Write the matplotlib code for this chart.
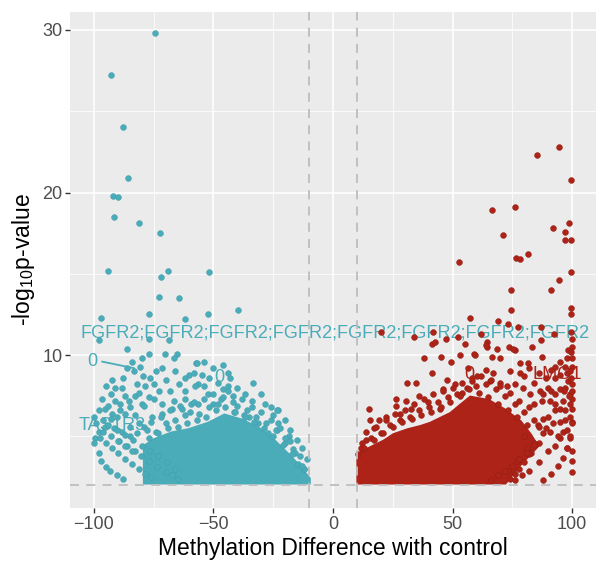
import numpy as np
import matplotlib
import matplotlib.pyplot as plt

matplotlib.use("Agg")

plt.rcParams["font.family"] = ["Liberation Sans", "DejaVu Sans"]
plt.rcParams["mathtext.default"] = "regular"

TEAL = "#4BACB9"
RED = "#AD2318"

# ── Data ──────────────────────────────────────────────────────────────────────

# hypomethylated (teal) – isolated points
teal_x = [-74.6, -92.9, -87.9, -85.8, -92.1, -90.0, -91.7, -81.3, -72.5, -94.2,
          -69.2, -72.1, -51.7, -72.9, -64.6, -97.1, -77.1, -61.7, -52.1, -39.6,
          -97.9, -86.3, -77.1, -68.8, -77.1, -70.4, -65.4, -66.7, -57.1, -84.2,
          -83.3, -80.8, -71.7, -92.5, -88.3, -91.3, -79.6, -76.7, -82.1, -78.8,
          -75.0, -72.9, -68.3, -64.6, -60.4, -56.3, -62.1, -96.7, -89.2, -85.4,
          -82.9, -80.0, -75.0, -71.7, -66.3, -62.1, -59.2, -95.4, -92.5, -90.4,
          -87.1, -100.0, -97.9, -99.6, -95.4, -91.7, -88.3, -85.0, -81.3, -75.8,
          -71.7, -67.5, -63.3, -89.6, -86.3, -82.9, -56.7, -54.6, -51.7, -47.9,
          -42.9, -43.8, -41.7, -45.8, -33.3, -57.9, -53.8, -52.1, -56.3, -50.0,
          -46.7, -28.3, -22.9, -22.9, -41.3, -37.1, -35.0, -31.3, -27.1, -23.3,
          -16.7, -14.6, -12.1, -23.3, -18.3, -20.0,
          -99.0, -98.0, -96.0, -94.0, -93.0, -91.0, -89.0, -87.0, -85.0, -83.0,
          -81.0, -79.0, -77.0, -79.0, -82.0, -85.0, -93.0, -95.0, -88.0, -86.0,
          -80.0, -74.0, -70.0, -66.0, -62.0, -58.0, -54.0, -50.0, -46.0, -44.0,
          -40.0, -37.0, -34.0, -30.0, -26.0, -25.0, -20.0, -18.0, -15.0, -13.0,
          -11.0]
teal_y = [29.8, 27.2, 24.0, 20.9, 19.8, 19.7, 18.5, 18.1, 17.5, 15.2,
          15.2, 14.8, 15.1, 13.6, 13.5, 12.3, 12.5, 12.2, 12.5, 12.8,
          10.9, 10.4, 11.0, 10.9, 10.1, 10.1, 10.1, 9.8, 9.5, 9.6,
          9.0, 9.3, 9.2, 8.5, 8.0, 8.0, 8.7, 8.6, 8.2, 8.1,
          8.2, 7.8, 7.8, 8.2, 8.8, 8.2, 7.8, 7.3, 7.0, 7.2,
          7.5, 7.0, 7.3, 7.0, 7.2, 7.3, 7.0, 6.7, 6.4, 6.2,
          6.4, 6.2, 5.3, 4.9, 5.6, 5.5, 5.3, 5.6, 5.8, 6.2,
          6.4, 6.7, 6.7, 4.7, 4.4, 4.1, 9.5, 8.8, 8.6, 8.3,
          8.6, 8.1, 7.5, 7.9, 8.3, 8.1, 8.1, 7.6, 7.0, 7.0,
          7.3, 7.0, 6.6, 5.8, 6.5, 6.3, 6.2, 5.8, 5.2, 5.4,
          4.2, 3.3, 3.0, 6.6, 5.0, 4.6,
          5.8, 6.6, 6.0, 6.9, 6.1, 7.2, 6.6, 7.5, 6.8, 6.3,
          7.7, 6.9, 7.4, 5.6, 5.2, 5.0, 7.6, 8.1, 8.6, 9.2,
          9.8, 9.0, 8.5, 9.0, 8.6, 8.9, 9.6, 9.2, 9.4, 8.9,
          8.0, 7.6, 7.2, 7.6, 6.8, 6.3, 6.0, 5.4, 4.8, 4.3,
          3.6]

# ragged top of the teal cloud
teal_edge_x = [-78, -76, -74, -72, -70, -68, -66, -64, -62, -60, -58, -56,
               -54, -52, -50, -48, -46, -44, -42, -40, -38, -36, -34, -32,
               -30, -28, -26, -24, -22, -20, -18, -16, -14, -12,
               -77, -73, -69, -65, -61, -57, -53, -49, -45, -41, -37, -33,
               -29, -25, -21, -17, -13]
teal_edge_y = [5.4, 5.9, 5.3, 6.2, 5.8, 6.6, 6.0, 6.9, 6.3, 6.5, 7.1, 6.4,
               7.3, 6.8, 7.6, 7.0, 7.4, 7.8, 7.1, 6.9, 7.3, 6.6, 6.8, 6.2,
               6.5, 5.8, 6.0, 5.4, 5.5, 4.9, 4.7, 4.0, 3.8, 3.0,
               4.9, 5.2, 5.5, 5.6, 5.8, 6.0, 6.2, 6.6, 6.8, 6.5, 6.2, 5.9,
               5.5, 5.0, 4.5, 3.9, 3.2]

# teal streaks in the lower left corner
teal_arc_x = [-100.0, -98.0, -97.0, -95.0, -93.3, -90.5, -88.0,
              -97.5, -95.0, -92.5, -90.0, -87.0, -84.0, -81.0, -78.5, -76.0,
              -96.0, -93.0, -90.0, -87.0, -84.0, -80.5, -77.0, -73.5, -70.0, -67.5, -65.0,
              -94.0, -90.5, -87.0, -83.5, -80.0, -76.5, -73.0, -69.5, -66.0]
teal_arc_y = [4.6, 4.0, 3.5, 3.1, 2.9, 2.6, 2.4,
              4.9, 4.6, 4.3, 4.0, 3.6, 3.3, 3.0, 2.7, 2.5,
              5.3, 5.0, 4.7, 4.4, 4.1, 3.8, 3.5, 3.1, 2.8, 2.6, 2.4,
              5.7, 5.4, 5.1, 4.8, 4.4, 4.1, 3.8, 3.4, 3.0]

# outline of the solid teal cloud
teal_core_x = [-78.8, -78.8, -74.6, -67.5, -60.4, -52.1, -45.4, -38.3, -31.3,
               -25.8, -21.7, -17.5, -13.3, -10.0, -10.0]
teal_core_y = [2.15, 4.4, 4.8, 5.2, 5.4, 5.8, 6.3, 6.0, 5.5,
               4.9, 4.3, 3.7, 3.0, 2.4, 2.15]

# hypermethylated (red) – isolated points
red_x = [85.4, 94.6, 99.6, 66.3, 76.3, 98.8, 92.1, 97.1, 97.1, 99.6,
         71.3, 76.7, 78.3, 81.7, 52.5, 99.6, 94.6, 91.3, 74.6, 99.6,
         99.6, 74.6, 57.1, 69.2, 73.3, 77.5, 87.1, 20.0, 33.8, 41.7,
         41.3, 42.5, 47.1, 52.1, 55.4, 61.7, 64.6, 64.6, 68.8, 73.8,
         76.3, 83.3, 87.1, 92.5, 99.6, 98.3, 99.6, 63.8, 58.8, 66.7,
         70.0, 75.4, 87.5, 97.9, 78.3, 81.7, 74.2, 78.3, 63.8, 67.1,
         56.3, 60.4, 58.3, 65.8, 70.0, 72.9, 76.3, 79.6, 82.5, 86.7,
         90.0, 92.9, 95.0, 97.9, 98.3, 99.2, 100.0, 100.0, 95.0, 92.9,
         90.8, 87.9, 87.5, 90.8, 85.8, 95.0, 96.3, 97.9, 99.2, 100.0,
         100.0, 100.0, 100.0, 100.0, 100.0, 37.9, 45.0, 49.2, 53.3, 59.2,
         30.8, 34.6, 15.0, 15.4, 19.2, 26.3, 26.3, 30.4, 32.5, 35.8,
         39.6, 44.6, 47.5, 46.0, 51.0, 53.8, 41.6, 11.7, 10.5, 14.0,
         17.0, 22.0, 28.0,
         80.0, 83.0, 86.0, 88.0, 90.0, 92.0, 93.0, 95.0, 96.0, 97.0,
         98.0, 98.5, 99.0, 99.5, 100.0, 100.0, 100.0, 97.0, 95.0, 93.0,
         91.0, 89.0, 86.0, 84.0, 82.0, 80.0, 84.0, 88.0, 91.0, 93.0,
         95.0, 97.0,
         84.0, 82.0, 80.0, 78.0, 76.0, 74.0, 81.0, 77.0, 73.0]
red_y = [22.3, 22.8, 20.8, 18.9, 19.1, 18.1, 17.8, 17.6, 17.1, 17.1,
         17.4, 16.0, 15.9, 16.2, 15.7, 15.1, 14.6, 14.0, 14.0, 12.9,
         12.5, 12.8, 12.3, 12.1, 11.9, 11.7, 11.7, 11.4, 11.1, 11.4,
         10.7, 10.8, 11.0, 11.1, 10.7, 11.3, 10.8, 10.5, 10.4, 10.5,
         10.3, 10.5, 10.9, 11.3, 11.4, 10.3, 10.2, 10.6, 10.1, 9.9,
         9.8, 10.4, 9.9, 9.8, 9.5, 9.5, 9.0, 8.9, 9.1, 8.9,
         9.2, 8.7, 8.4, 8.4, 8.3, 8.1, 8.2, 8.0, 7.6, 7.8,
         8.0, 8.6, 8.8, 8.9, 8.4, 7.6, 6.7, 5.9, 6.7, 7.0,
         7.2, 6.1, 7.2, 5.3, 5.7, 4.9, 5.3, 4.3, 4.9, 4.1,
         3.5, 2.8, 9.3, 8.2, 7.3, 9.8, 9.9, 9.6, 10.0, 10.0,
         8.3, 8.3, 6.7, 6.0, 6.0, 7.3, 6.9, 7.2, 6.7, 7.5,
         7.1, 6.7, 8.5, 7.9, 8.2, 7.7, 8.9, 4.3, 3.9, 4.8,
         5.5, 6.2, 6.4,
         5.0, 4.0, 4.6, 5.2, 6.2, 5.8, 4.4, 5.9, 7.2, 6.6,
         5.4, 7.5, 6.2, 8.6, 9.8, 10.5, 11.0, 9.3, 9.6, 9.3,
         9.1, 8.6, 8.9, 8.3, 9.2, 8.7, 7.0, 7.6, 7.8, 7.6,
         7.9, 8.0,
         4.6, 3.9, 3.4, 3.0, 2.7, 2.4, 4.3, 3.5, 2.9]

# ragged top of the red cloud
red_edge_x = [12, 14, 16, 18, 20, 22, 24, 26, 28, 30, 32, 34, 36, 38, 40,
              42, 44, 46, 48, 50, 52, 54, 56, 58, 60, 62, 64, 66, 68, 70,
              72, 74, 76, 78, 80, 82, 84, 86,
              13, 17, 21, 25, 29, 33, 37, 41, 45, 49, 53, 57, 61, 65, 69,
              73, 77, 81]
red_edge_y = [4.6, 5.3, 4.9, 5.6, 5.2, 6.0, 5.7, 6.4, 6.0, 6.6, 6.2, 7.0,
              6.6, 7.3, 6.8, 7.6, 7.1, 7.8, 7.4, 8.0, 7.6, 8.3, 8.0, 8.6,
              8.1, 8.7, 8.2, 8.5, 7.9, 8.1, 7.5, 7.7, 7.0, 7.2, 6.5, 6.8,
              6.0, 5.6,
              4.3, 4.8, 5.2, 5.6, 5.9, 6.1, 6.3, 6.5, 6.8, 7.1, 7.5, 7.9,
              7.7, 7.4, 7.0, 6.6, 6.2, 5.7]

# red streaks in the lower right corner
red_arc_x = [88.0, 91.0, 94.0, 96.0, 98.0, 99.3, 100.0,
             76.0, 79.0, 82.0, 86.0, 90.0, 94.0, 97.0, 99.0, 100.0,
             66.0, 69.0, 72.0, 75.0, 78.0, 81.0, 84.0, 89.0, 93.0, 96.5, 99.0]
red_arc_y = [2.3, 2.7, 3.2, 3.7, 4.3, 5.0, 5.8,
             2.3, 2.6, 2.9, 3.4, 4.1, 5.0, 6.0, 7.0, 7.8,
             2.3, 2.6, 2.9, 3.2, 3.6, 4.0, 4.5, 5.5, 6.6, 7.8, 9.0]

# outline of the solid red cloud
red_core_x = [10.5, 10.5, 11.7, 17.1, 21.3, 25.4, 31.3, 36.7, 40.8, 45.0,
              49.2, 53.3, 57.5, 65.0, 72.0, 78.3, 82.5, 85.4, 78.3, 72.0]
red_core_y = [2.15, 3.6, 4.0, 4.4, 4.7, 5.1, 5.4, 5.6, 5.8, 6.1,
              6.4, 6.9, 7.4, 7.2, 6.6, 5.9, 5.1, 4.4, 3.3, 2.15]

# gene labels: (text, x, y, colour, alignment)
labels = [
    ("FGFR2;" * 7 + "FGFR2", -105.5, 11.35, TEAL, "left"),
    ("0", -100.5, 9.6, TEAL, "center"),
    ("0", -47.5, 8.6, TEAL, "center"),
    ("TAS1R3", -92.5, 5.7, TEAL, "center"),
    ("0", 57.0, 8.8, RED, "center"),
    ("LMO1", 93.8, 8.8, RED, "center"),
]
pointer = ([-96.5, -83.3], [9.6, 9.2])

FC_CUT = 10
P_CUT = 2

# ── Plot ─────────────────────────────────────────────────────────────────────

fig = plt.figure(figsize=(6.06, 5.72), dpi=100)
ax = fig.add_axes([70 / 606, 64 / 572, 526 / 606, 496 / 572])
ax.set_facecolor("#EBEBEB")
for s in ax.spines.values():
    s.set_visible(False)

ax.set_xlim(-110, 110)
ax.set_ylim(0.6, 31.1)
ax.set_xticks([-100, -50, 0, 50, 100])
ax.set_xticks([-75, -25, 25, 75], minor=True)
ax.set_yticks([10, 20, 30])
ax.set_yticks([5, 15, 25], minor=True)
ax.set_axisbelow(True)
ax.grid(which="major", color="white", linewidth=1.1)
ax.grid(which="minor", color="white", linewidth=0.55)
ax.tick_params(which="major", length=3.5, width=1.0, color="#333333",
               labelcolor="#4D4D4D", labelsize=13, pad=2)
ax.tick_params(which="minor", length=0)

# labels sit underneath the points
for txt, x, y, col, ha in labels:
    ax.text(x, y, txt, color=col, fontsize=13.1, ha=ha, va="center",
            zorder=1.5, clip_on=False)
ax.plot(*pointer, color=TEAL, linewidth=1.3, zorder=1.5)

ms = 18
for cx, cy, col in [(teal_core_x, teal_core_y, TEAL), (red_core_x, red_core_y, RED)]:
    ax.fill(cx, cy, color=col, linewidth=2.5, edgecolor=col, zorder=3)

for px, py in [(teal_x, teal_y), (teal_edge_x, teal_edge_y), (teal_arc_x, teal_arc_y)]:
    ax.scatter(px, py, s=ms, color=TEAL, linewidths=0.3, edgecolors="#3F9AA6", zorder=3)
for px, py in [(red_x, red_y), (red_edge_x, red_edge_y), (red_arc_x, red_arc_y)]:
    ax.scatter(px, py, s=ms, color=RED, linewidths=0.3, edgecolors="#8E1A12", zorder=3)

# significance cut-offs
dash = dict(color="#BDBDBD", linewidth=1.3, linestyle=(0, (5, 4)), zorder=4)
ax.axvline(-FC_CUT, **dash)
ax.axvline(FC_CUT, **dash)
ax.axhline(P_CUT, **dash)

ax.set_xlabel("Methylation Difference with control", fontsize=16.5, labelpad=3)
ax.set_ylabel("-log$_{10}$p-value", fontsize=16.5, labelpad=4)

fig.savefig("out.png", dpi=100)
